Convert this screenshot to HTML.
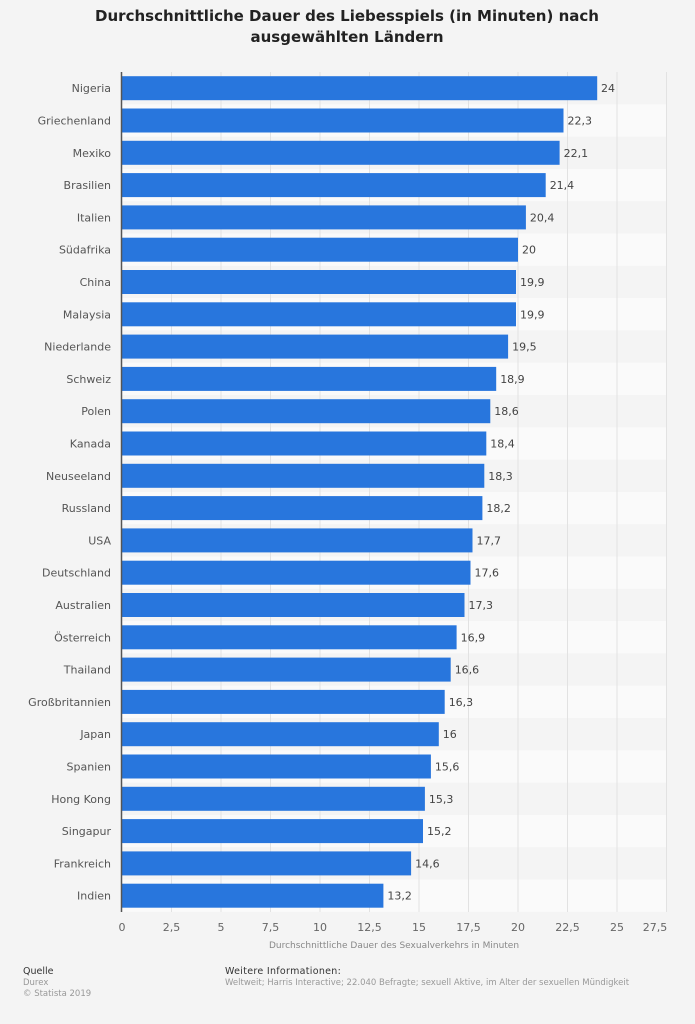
<!DOCTYPE html>
<html><head><meta charset="utf-8"><style>
html,body{margin:0;padding:0;background:#f4f4f4;}
svg{display:block;font-family:"DejaVu Sans","Liberation Sans",sans-serif;}
.l{font-size:11px;fill:#555;text-anchor:end}
.v{font-size:11px;fill:#444}
.t{font-size:11px;fill:#666;text-anchor:middle}
</style></head><body>
<svg width="695" height="1024" viewBox="0 0 695 1024">
<rect width="695" height="1024" fill="#f4f4f4"/>
<text x="347" y="21" text-anchor="middle" font-size="15" font-weight="bold" fill="#222">Durchschnittliche Dauer des Liebesspiels (in Minuten) nach</text>
<text x="347" y="42" text-anchor="middle" font-size="15" font-weight="bold" fill="#222">ausgewählten Ländern</text>
<g fill="#fafafa">
<rect x="122" y="104.3" width="545" height="32.3"/><rect x="122" y="168.9" width="545" height="32.3"/><rect x="122" y="233.5" width="545" height="32.3"/><rect x="122" y="298.1" width="545" height="32.3"/><rect x="122" y="362.7" width="545" height="32.3"/><rect x="122" y="427.3" width="545" height="32.3"/><rect x="122" y="491.9" width="545" height="32.3"/><rect x="122" y="556.5" width="545" height="32.3"/><rect x="122" y="621.1" width="545" height="32.3"/><rect x="122" y="685.7" width="545" height="32.3"/><rect x="122" y="750.3" width="545" height="32.3"/><rect x="122" y="814.9" width="545" height="32.3"/><rect x="122" y="879.5" width="545" height="32.3"/>
</g>
<g stroke="#e2e2e2" stroke-width="1">
<line x1="171.5" y1="72" x2="171.5" y2="912"/><line x1="221" y1="72" x2="221" y2="912"/><line x1="270.5" y1="72" x2="270.5" y2="912"/><line x1="320" y1="72" x2="320" y2="912"/><line x1="369.5" y1="72" x2="369.5" y2="912"/><line x1="419" y1="72" x2="419" y2="912"/><line x1="468.5" y1="72" x2="468.5" y2="912"/><line x1="518" y1="72" x2="518" y2="912"/><line x1="567.5" y1="72" x2="567.5" y2="912"/><line x1="617" y1="72" x2="617" y2="912"/><line x1="666.5" y1="72" x2="666.5" y2="912"/>
</g>
<g fill="#2876dd">
<rect x="122" y="76.2" width="475.2" height="24"/><rect x="122" y="108.5" width="441.5" height="24"/><rect x="122" y="140.8" width="437.6" height="24"/><rect x="122" y="173.1" width="423.7" height="24"/><rect x="122" y="205.4" width="403.9" height="24"/><rect x="122" y="237.7" width="396" height="24"/><rect x="122" y="270" width="394" height="24"/><rect x="122" y="302.3" width="394" height="24"/><rect x="122" y="334.6" width="386.1" height="24"/><rect x="122" y="366.9" width="374.2" height="24"/><rect x="122" y="399.2" width="368.3" height="24"/><rect x="122" y="431.5" width="364.3" height="24"/><rect x="122" y="463.8" width="362.3" height="24"/><rect x="122" y="496.1" width="360.4" height="24"/><rect x="122" y="528.4" width="350.5" height="24"/><rect x="122" y="560.7" width="348.5" height="24"/><rect x="122" y="593" width="342.5" height="24"/><rect x="122" y="625.3" width="334.6" height="24"/><rect x="122" y="657.6" width="328.7" height="24"/><rect x="122" y="689.9" width="322.7" height="24"/><rect x="122" y="722.2" width="316.8" height="24"/><rect x="122" y="754.5" width="308.9" height="24"/><rect x="122" y="786.8" width="302.9" height="24"/><rect x="122" y="819.1" width="301" height="24"/><rect x="122" y="851.4" width="289.1" height="24"/><rect x="122" y="883.7" width="261.4" height="24"/>
</g>
<line x1="121.5" y1="72" x2="121.5" y2="912" stroke="#555" stroke-width="1.5"/>
<g class="l">
<text x="111" y="92.2">Nigeria</text><text x="111" y="124.5">Griechenland</text><text x="111" y="156.8">Mexiko</text><text x="111" y="189.1">Brasilien</text><text x="111" y="221.4">Italien</text><text x="111" y="253.7">Südafrika</text><text x="111" y="286">China</text><text x="111" y="318.3">Malaysia</text><text x="111" y="350.6">Niederlande</text><text x="111" y="382.9">Schweiz</text><text x="111" y="415.2">Polen</text><text x="111" y="447.5">Kanada</text><text x="111" y="479.8">Neuseeland</text><text x="111" y="512.1">Russland</text><text x="111" y="544.4">USA</text><text x="111" y="576.7">Deutschland</text><text x="111" y="609">Australien</text><text x="111" y="641.3">Österreich</text><text x="111" y="673.6">Thailand</text><text x="111" y="705.9">Großbritannien</text><text x="111" y="738.2">Japan</text><text x="111" y="770.5">Spanien</text><text x="111" y="802.8">Hong Kong</text><text x="111" y="835.1">Singapur</text><text x="111" y="867.4">Frankreich</text><text x="111" y="899.7">Indien</text>
</g>
<g class="v">
<text x="601" y="92.2">24</text><text x="567.5" y="124.5">22,3</text><text x="563.6" y="156.8">22,1</text><text x="549.7" y="189.1">21,4</text><text x="529.9" y="221.4">20,4</text><text x="522" y="253.7">20</text><text x="520" y="286">19,9</text><text x="520" y="318.3">19,9</text><text x="512.1" y="350.6">19,5</text><text x="500.2" y="382.9">18,9</text><text x="494.3" y="415.2">18,6</text><text x="490.3" y="447.5">18,4</text><text x="488.3" y="479.8">18,3</text><text x="486.4" y="512.1">18,2</text><text x="476.5" y="544.4">17,7</text><text x="474.5" y="576.7">17,6</text><text x="468.5" y="609">17,3</text><text x="460.6" y="641.3">16,9</text><text x="454.7" y="673.6">16,6</text><text x="448.7" y="705.9">16,3</text><text x="442.8" y="738.2">16</text><text x="434.9" y="770.5">15,6</text><text x="428.9" y="802.8">15,3</text><text x="427" y="835.1">15,2</text><text x="415.1" y="867.4">14,6</text><text x="387.4" y="899.7">13,2</text>
</g>
<g class="t">
<text x="122" y="931">0</text><text x="171.5" y="931">2,5</text><text x="221" y="931">5</text><text x="270.5" y="931">7,5</text><text x="320" y="931">10</text><text x="369.5" y="931">12,5</text><text x="419" y="931">15</text><text x="468.5" y="931">17,5</text><text x="518" y="931">20</text><text x="567.5" y="931">22,5</text><text x="617" y="931">25</text><text x="655" y="931">27,5</text>
</g>
<text x="394" y="948" text-anchor="middle" font-size="9" fill="#888">Durchschnittliche Dauer des Sexualverkehrs in Minuten</text>
<text x="23" y="974" font-size="9.5" fill="#333">Quelle</text>
<text x="23" y="985" font-size="8.5" fill="#999">Durex</text>
<text x="23" y="996" font-size="8.5" fill="#999">© Statista 2019</text>
<text x="225" y="974" font-size="9.5" fill="#333" letter-spacing="0.3">Weitere Informationen:</text>
<text x="225" y="985" font-size="8.5" fill="#999">Weltweit; Harris Interactive; 22.040 Befragte; sexuell Aktive, im Alter der sexuellen Mündigkeit</text>
</svg>
</body></html>
